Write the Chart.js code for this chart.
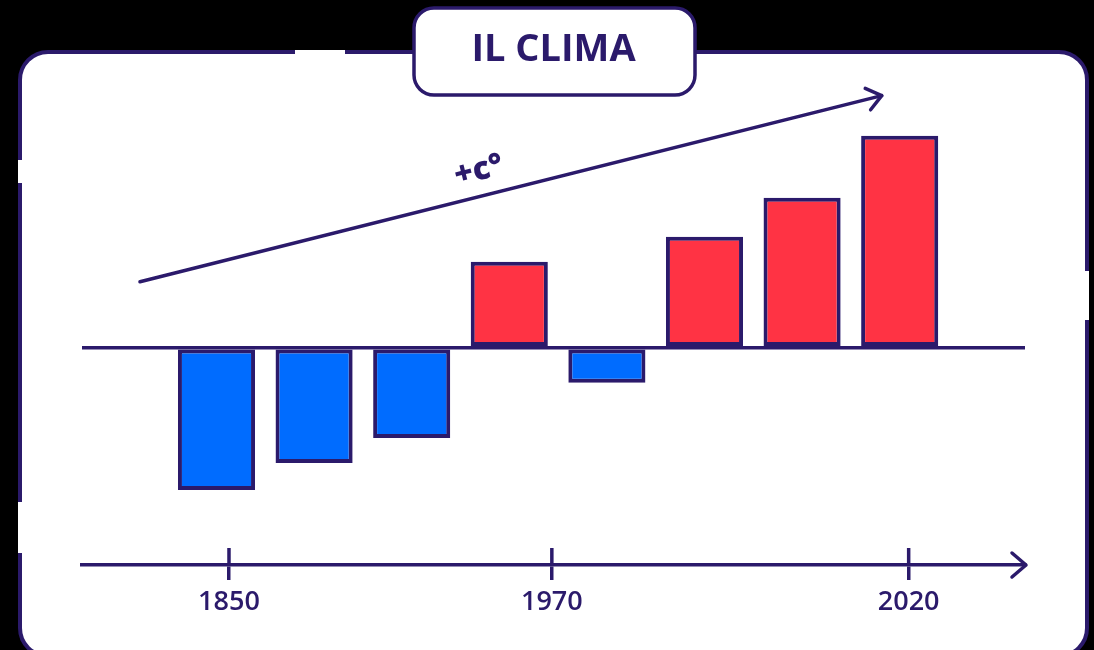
<!DOCTYPE html>
<html lang="it">
<head>
<meta charset="utf-8">
<title>Il clima</title>
<script src="https://cdn.jsdelivr.net/npm/chart.js@4.4.1/dist/chart.umd.min.js"></script>
<style>
  html, body { margin: 0; padding: 0; background: #000; }
  #wrap { width: 1094px; height: 650px; position: relative; }
  canvas { display: block; }
</style>
</head>
<body>
<div id="wrap"><canvas id="clima" width="1094" height="650"></canvas></div>
<script>
// Temperature anomaly per period (°C relative to the baseline), one bar per period
const periodSlots = [0, 1, 2, 3, 4, 5, 6, 7];
const anomalies = [-0.568, -0.46, -0.36, 0.344, -0.14, 0.444, 0.6, 0.848];

// Warming trend arrow, start and end points
const trendX = [-0.784, 6.816];
const trendY = [0.264, 1.008];

// Year labels on the time axis
const yearLabels = ['1850', '1970', '2020'];
const yearTickAt = [0.128, 3.436, 7.092];

const NAVY = '#2b1a6b';
const BLUE = '#006cff';
const RED = '#ff3344';
const FONT = "'Open Sans', 'DejaVu Sans', sans-serif";
const LINE_W = 3.5;

const barData = periodSlots.map((x, i) => ({ x: x, y: anomalies[i] }));
const trendData = trendX.map((x, i) => ({ x: x, y: trendY[i] }));

function roundRectPath(ctx, x, y, w, h, r) {
  ctx.beginPath();
  ctx.moveTo(x + r, y);
  ctx.lineTo(x + w - r, y);
  ctx.arcTo(x + w, y, x + w, y + r, r);
  ctx.lineTo(x + w, y + h - r);
  ctx.arcTo(x + w, y + h, x + w - r, y + h, r);
  ctx.lineTo(x + r, y + h);
  ctx.arcTo(x, y + h, x, y + h - r, r);
  ctx.lineTo(x, y + r);
  ctx.arcTo(x, y, x + r, y, r);
  ctx.closePath();
}

// Card background, its broken outline and the title tab
const cardPlugin = {
  id: 'card',
  beforeDraw(chart) {
    const ctx = chart.ctx;
    ctx.save();
    ctx.fillStyle = '#000';
    ctx.fillRect(0, 0, chart.width, chart.height);

    roundRectPath(ctx, 20, 52, 1067, 604, 28);
    ctx.fillStyle = '#fff';
    ctx.fill();
    ctx.lineWidth = 4;
    ctx.strokeStyle = NAVY;
    ctx.stroke();

    // small breaks in the outline
    ctx.fillStyle = '#fff';
    ctx.fillRect(295, 50, 50, 4);
    ctx.fillRect(18, 160, 4, 23);
    ctx.fillRect(18, 502, 4, 51);
    ctx.fillRect(1085, 271, 4, 49);

    // title tab
    roundRectPath(ctx, 414, 8, 281, 87, 20);
    ctx.fillStyle = '#fff';
    ctx.fill();
    ctx.lineWidth = 3.5;
    ctx.strokeStyle = NAVY;
    ctx.stroke();
    ctx.restore();
  }
};

// Arrow heads, upper half of the year ticks and the trend label
const decorPlugin = {
  id: 'decor',
  afterDatasetsDraw(chart) {
    const ctx = chart.ctx;
    const area = chart.chartArea;
    const xs = chart.scales.x;
    ctx.save();
    ctx.strokeStyle = NAVY;
    ctx.lineCap = 'round';
    ctx.lineJoin = 'round';
    ctx.lineWidth = LINE_W;

    // time axis arrow head
    const ax = area.right + 1, ay = area.bottom;
    ctx.beginPath();
    ctx.moveTo(ax - 14, ay - 12);
    ctx.lineTo(ax, ay);
    ctx.lineTo(ax - 14, ay + 12);
    ctx.stroke();

    // year ticks crossing the axis
    ctx.lineCap = 'butt';
    xs.ticks.forEach((t) => {
      const px = xs.getPixelForValue(t.value);
      ctx.beginPath();
      ctx.moveTo(px, ay - 17);
      ctx.lineTo(px, ay);
      ctx.stroke();
    });

    // trend arrow head
    const meta = chart.getDatasetMeta(1);
    const p0 = meta.data[0], p1 = meta.data[meta.data.length - 1];
    const ang = Math.atan2(p1.y - p0.y, p1.x - p0.x);
    const len = 18, spread = 0.66;
    ctx.lineCap = 'round';
    ctx.beginPath();
    ctx.moveTo(p1.x + len * Math.cos(ang + Math.PI - spread), p1.y + len * Math.sin(ang + Math.PI - spread));
    ctx.lineTo(p1.x, p1.y);
    ctx.lineTo(p1.x + len * Math.cos(ang + Math.PI + spread), p1.y + len * Math.sin(ang + Math.PI + spread));
    ctx.stroke();

    // "+c°" label riding on the trend line
    const t = 0.465, off = 25;
    const mx = p0.x + t * (p1.x - p0.x);
    const my = p0.y + t * (p1.y - p0.y);
    const lx = mx + off * Math.sin(ang);
    const ly = my - off * Math.cos(ang);
    ctx.translate(lx, ly);
    ctx.rotate(ang);
    ctx.fillStyle = NAVY;
    ctx.font = '800 32px ' + FONT;
    ctx.textAlign = 'center';
    ctx.textBaseline = 'middle';
    ctx.fillText('+c°', 0, 0);
    ctx.restore();
  }
};

new Chart(document.getElementById('clima'), {
  data: {
    datasets: [
      {
        type: 'bar',
        label: 'Anomalia',
        data: barData,
        backgroundColor: anomalies.map(v => (v < 0 ? BLUE : RED)),
        borderColor: NAVY,
        borderWidth: 4,
        borderSkipped: false,
        categoryPercentage: 1,
        barPercentage: 0.79,
        order: 2
      },
      {
        type: 'line',
        label: 'Tendenza',
        data: trendData,
        borderColor: NAVY,
        borderWidth: LINE_W,
        borderCapStyle: 'round',
        pointRadius: 0,
        fill: false,
        tension: 0,
        order: 1
      }
    ]
  },
  options: {
    responsive: false,
    animation: false,
    events: [],
    layout: { padding: { left: 82, right: 69, top: 0, bottom: 25 } },
    plugins: {
      legend: { display: false },
      tooltip: { enabled: false },
      title: {
        display: true,
        text: 'IL CLIMA',
        color: NAVY,
        font: { family: FONT, size: 38, weight: '700', lineHeight: 1.2 },
        padding: { top: 27, bottom: 1 }
      }
    },
    scales: {
      x: {
        type: 'linear',
        position: 'bottom',
        min: -1.378,
        max: 8.284,
        offset: false,
        afterFit(scale) { scale.height = 60; },
        afterBuildTicks(scale) { scale.ticks = yearTickAt.map(v => ({ value: v })); },
        ticks: {
          color: NAVY,
          padding: 6,
          autoSkip: false,
          maxRotation: 0,
          font: { family: FONT, size: 27, weight: '600' },
          callback: (value, index) => yearLabels[index]
        },
        grid: {
          display: true,
          drawOnChartArea: false,
          drawTicks: true,
          tickLength: 15,
          color: NAVY,
          lineWidth: LINE_W,
          offset: false
        },
        border: { display: true, color: NAVY, width: LINE_W }
      },
      y: {
        type: 'linear',
        min: -0.868,
        max: 1.096,
        afterFit(scale) { scale.width = 0; },
        afterBuildTicks(scale) { scale.ticks = [{ value: 0 }]; },
        ticks: { display: false },
        grid: {
          drawTicks: false,
          color: NAVY,
          lineWidth: LINE_W
        },
        border: { display: false }
      }
    }
  },
  plugins: [cardPlugin, decorPlugin]
});
</script>
</body>
</html>
